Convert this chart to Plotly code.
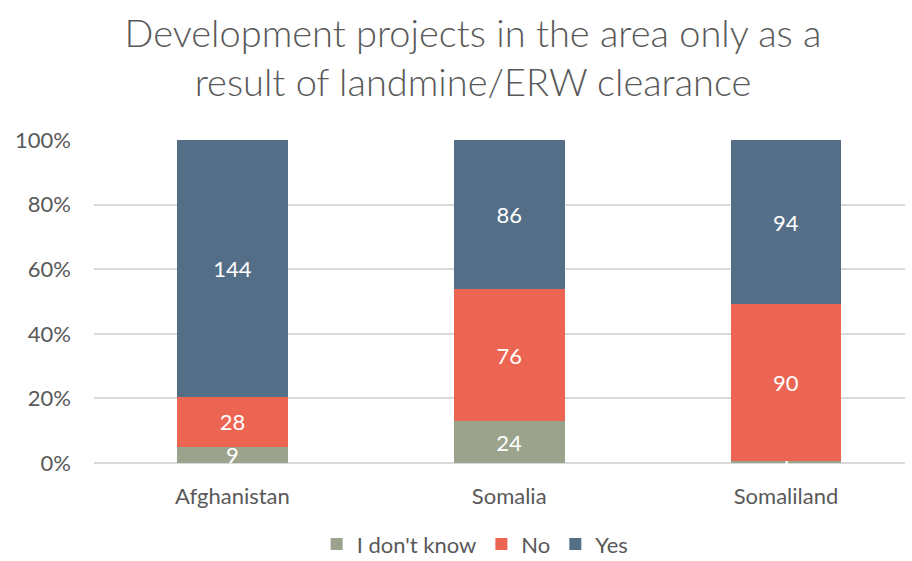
import plotly.graph_objects as go

countries = ["Afghanistan", "Somalia", "Somaliland"]
dont_know = [9, 24, 1]
no = [28, 76, 90]
yes = [144, 86, 94]
y_ticks = [0, 20, 40, 60, 80, 100]

series = [
    ("I don't know", dont_know, "#9BA38D"),
    ("No", no, "#EC6553"),
    ("Yes", yes, "#546E87"),
]

fig = go.Figure()
for name, vals, color in series:
    fig.add_trace(go.Bar(
        x=countries, y=vals, name=name, marker=dict(color=color, line=dict(width=0)),
        text=[str(v) for v in vals], textposition="inside", insidetextanchor="middle",
        textangle=0, textfont=dict(color="white", size=22), cliponaxis=False,
    ))

fig.update_layout(
    barmode="stack",
    barnorm="percent",
    bargap=0.6,
    width=912,
    height=561,
    paper_bgcolor="white",
    plot_bgcolor="white",
    font=dict(family="Lato, sans-serif", color="#595959", size=22),
    title=dict(
        text="Development projects in the area only as a<br>result of landmine/ERW clearance",
        x=473 / 912, xanchor="center", y=0.917, yanchor="top",
        font=dict(size=38, color="#595959", weight=300),
    ),
    margin=dict(l=94, r=7, t=140, b=98),
    uniformtext=dict(minsize=22, mode="show"),
    legend=dict(
        orientation="h", x=0.47, xanchor="center", yref="container", y=0.03, yanchor="middle",
        font=dict(size=22, color="#595959"), traceorder="normal",
    ),
)
fig.update_xaxes(range=[-0.5, 2.43], showline=False, ticks="", automargin=False,
                 tickfont=dict(size=22, color="#595959"), ticklabelstandoff=18)
fig.update_yaxes(
    range=[0, 100], tickvals=y_ticks, ticktext=[f"{t}%" for t in y_ticks], automargin=False,
    showgrid=True, gridcolor="#D9D9D9", gridwidth=1.5, zeroline=True, zerolinecolor="#D9D9D9",
    zerolinewidth=1.5, tickfont=dict(size=22, color="#595959"), ticklabelstandoff=22,
)

# drop the page's default body margin so the figure sits at the window's corner
fig.write_html("out.html", config={"displayModeBar": False},
               post_script="document.body.style.margin='0';")
